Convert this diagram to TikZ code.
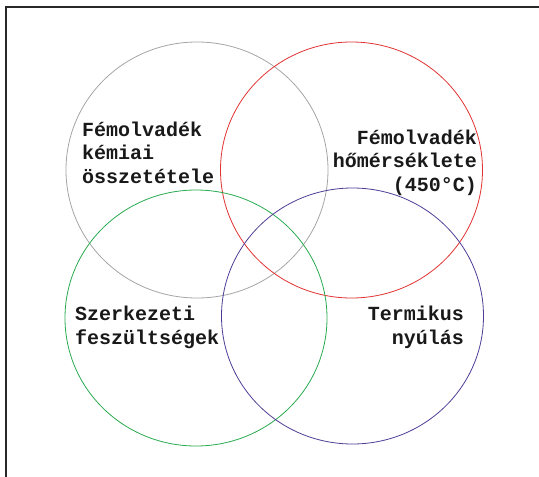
\documentclass[tikz,border=0pt]{standalone}
\usepackage{fontspec}
\setmonofont{Liberation Mono}
\definecolor{ringgray}{RGB}{165,165,165}
\definecolor{ringred}{RGB}{225,50,50}
\definecolor{ringgreen}{RGB}{40,170,80}
\definecolor{ringpurple}{RGB}{80,60,150}
\definecolor{framegray}{RGB}{40,40,40}
\usetikzlibrary{shapes.geometric}

\begin{document}
\begin{tikzpicture}[x=1pt, y=-1pt,
        ring/.style={ellipse, draw, line width=0.8pt, minimum width=262pt, minimum height=256pt, inner sep=0pt},
        lbl/.style={inner sep=0pt, font=\fontsize{20}{23.5}\selectfont\ttfamily\bfseries, text=black!90}
      ]
        \useasboundingbox (0,0) rectangle (539,477);

        % open frame
        \coordinate (fbot) at (6,477);
        \coordinate (fcorner) at (6,7);
        \coordinate (fright) at (539,7);
        \draw[framegray, line width=1.2pt] (fbot) -- (fcorner) -- (fright);

        % four overlapping rings
        \node[ring, draw=ringgray]   (chem)  at (197,170) {};
        \node[ring, draw=ringred]    (temp)  at (351.5,170) {};
        \node[ring, draw=ringgreen]  (stress) at (196,318) {};
        \node[ring, draw=ringpurple] (creep) at (352.5,316) {};

        \node[lbl, anchor=base west, align=left]  (chemtxt)   at (82,183)  {Fémolvadék\\kémiai\\összetétele};
        \node[lbl, anchor=base east, align=right] (temptxt)   at (477,191) {Fémolvadék\\hőmérséklete\\(450°C)};
        \node[lbl, anchor=base west, align=left]  (stresstxt) at (75,344)  {Szerkezeti\\feszültségek};
        \node[lbl, anchor=base east, align=right] (creeptxt)  at (464,344) {Termikus\\nyúlás};
      \end{tikzpicture}
\end{document}
